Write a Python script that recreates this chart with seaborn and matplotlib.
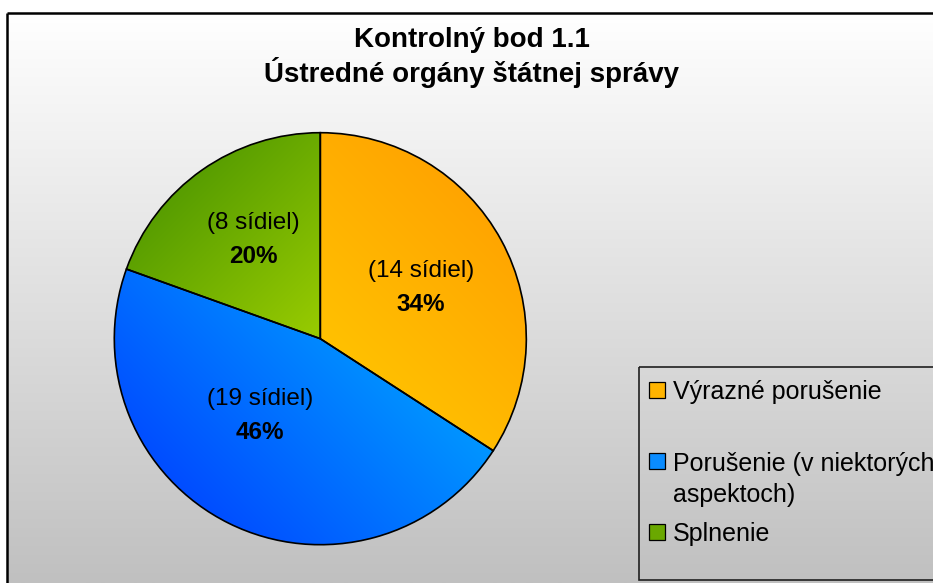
import numpy as np
import matplotlib
matplotlib.use("Agg")
import matplotlib.pyplot as plt
import seaborn as sns
from matplotlib.colors import to_rgb
from matplotlib.patches import Rectangle

# ---------------- data ----------------
title_line1 = "Kontrolný bod 1.1"
title_line2 = "Ústredné orgány štátnej správy"
categories = ["Výrazné porušenie", "Porušenie (v niektorých\naspektoch)", "Splnenie"]
counts = [14, 19, 8]
count_labels = ["(14 sídiel)", "(19 sídiel)", "(8 sídiel)"]
percent_labels = ["34%", "46%", "20%"]

# ---------------- style ----------------
grad_start = ["#FFCC00", "#0033FF", "#3F8C00"]
grad_end = ["#FF9900", "#00BBFF", "#99CC00"]
grad_dir = [(1, 1), (1, 1), (1, -1)]
legend_colors = ["#FFB400", "#0A8CFF", "#6AA800"]
label_dist = [0.55, 0.47, 0.585]
label_turn = [-1.0, -12.0, -1.5]

sns.set_theme(style="white")
plt.rcParams["font.family"] = ["Liberation Sans", "DejaVu Sans"]

W, H = 933, 583
fig = plt.figure(figsize=(W / 100, H / 100), dpi=100)
fig.patch.set_facecolor("white")

# ---------------- background panel (pixel coords) ----------------
bg = fig.add_axes([0, 0, 1, 1], zorder=0)
bg.set_xlim(0, W)
bg.set_ylim(H, 0)
bg.axis("off")
t = np.linspace(0, 1, 256)[:, None, None]
top_c = np.array(to_rgb("#FFFFFF"))
bot_c = np.array(to_rgb("#C0C0C0"))
bg_img = top_c + (bot_c - top_c) * t
bg.imshow(bg_img, extent=[7, W + 5, H, 13], aspect="auto", interpolation="bilinear")
bg.plot([7, 7], [13, H + 5], color="black", lw=1.8, solid_capstyle="butt")
bg.plot([7, W + 5], [13, 13], color="black", lw=1.8, solid_capstyle="butt")
bg.set_xlim(0, W)
bg.set_ylim(H, 0)

# title
fig.text(472 / W, 1 - 40 / H, title_line1, ha="center", va="center",
         fontsize=20, fontweight="bold", color="black")
fig.text(472 / W, 1 - 73 / H, title_line2, ha="center", va="center",
         fontsize=20, fontweight="bold", color="black")

# ---------------- pie ----------------
cx, cy, R = 320.3, 338.7, 206.0
pad = 1.02
ax = fig.add_axes([(cx - R * pad) / W, (H - cy - R * pad) / H, 2 * R * pad / W, 2 * R * pad / H], zorder=1)
wedges, _ = ax.pie(counts, startangle=90, counterclock=False, radius=1,
                   colors=["none"] * len(counts),
                   wedgeprops=dict(edgecolor="black", linewidth=1.2, zorder=3))


def gradient_fill(axis, wedge, c0, c1, direction):
    ext = wedge.get_path().get_extents()
    x0, y0, x1, y1 = ext.x0, ext.y0, ext.x1, ext.y1
    n = 300
    X, Y = np.meshgrid(np.linspace(x0, x1, n), np.linspace(y0, y1, n))
    d = np.array(direction, dtype=float)
    d /= np.linalg.norm(d)
    proj = X * d[0] + Y * d[1]
    tt = (proj - proj.min()) / (proj.max() - proj.min())
    a = np.array(to_rgb(c0))
    b = np.array(to_rgb(c1))
    img = a + (b - a) * tt[..., None]
    im = axis.imshow(img, extent=[x0, x1, y0, y1], origin="lower", aspect="auto",
                     interpolation="bilinear", zorder=2)
    im.set_clip_path(wedge)


for i, w in enumerate(wedges):
    gradient_fill(ax, w, grad_start[i], grad_end[i], grad_dir[i])
    mid = np.deg2rad((w.theta1 + w.theta2) / 2 + label_turn[i])
    x, y = label_dist[i] * np.cos(mid), label_dist[i] * np.sin(mid)
    ax.annotate(count_labels[i], (x, y), xytext=(0, 11), textcoords="offset points",
                ha="center", va="center", fontsize=17.5, color="black", zorder=5)
    ax.annotate(percent_labels[i], (x, y), xytext=(0, -12.8), textcoords="offset points",
                ha="center", va="center", fontsize=17.5, fontweight="bold", color="black", zorder=5)

ax.set_xlim(-pad, pad)
ax.set_ylim(-pad, pad)
ax.set_aspect("equal")
ax.axis("off")

# ---------------- legend (pixel coords on background panel) ----------------
box_left, box_top, box_bottom = 639, 367, 580
bg.add_patch(Rectangle((box_left, box_top), W + 20 - box_left, box_bottom - box_top,
                       fill=False, edgecolor="#202020", lw=1.2, zorder=4))
y0, step = 390, 71
for i, lab in enumerate(categories):
    yc = y0 + i * step
    bg.add_patch(Rectangle((649, yc - 8), 16, 16, facecolor=legend_colors[i],
                           edgecolor="black", lw=0.9, zorder=5))
    bg.text(673, yc - 9.5, lab, ha="left", va="top", fontsize=18, color="black",
            linespacing=1.4, zorder=5)

fig.savefig("out.png", dpi=100)
